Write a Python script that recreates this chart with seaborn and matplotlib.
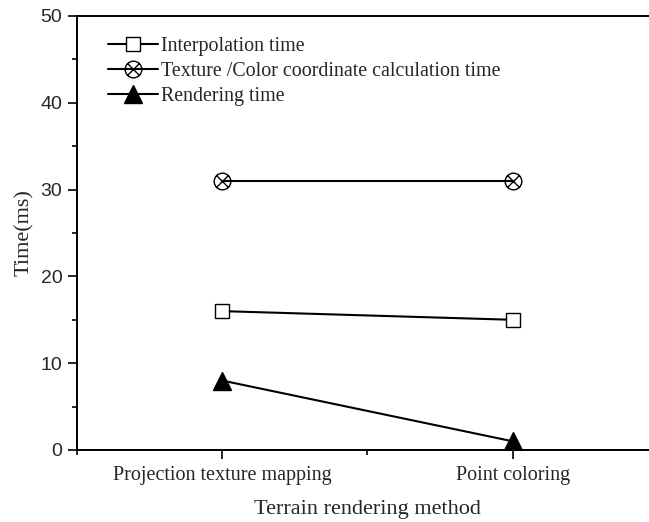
import matplotlib
matplotlib.use("Agg")
import matplotlib.pyplot as plt
import seaborn as sns
import pandas as pd
from matplotlib.path import Path
from matplotlib.ticker import MultipleLocator

methods = ["Projection texture mapping", "Point coloring"]
interpolation = [16, 15]
texture_color = [31, 31]
rendering = [8, 1]

sns.set_theme(style="ticks")
plt.rcParams["font.family"] = ["Liberation Serif", "DejaVu Serif"]

# circle with an x inside
circ = Path.unit_circle()
d = 0.7071
cross = Path([(-d, -d), (d, d), (-d, d), (d, -d)],
             [Path.MOVETO, Path.LINETO, Path.MOVETO, Path.LINETO])
circle_x = Path.make_compound_path(circ, cross)

fig = plt.figure(figsize=(6.49, 5.22), dpi=100)
ax = fig.add_axes([77 / 649, 1 - 450 / 522, 581 / 649, 434 / 522])

series = [
    ("Interpolation time", interpolation, "s", "white", 10.5),
    ("Texture /Color coordinate calculation time", texture_color, circle_x, "none", 12),
    ("Rendering time", rendering, "^", "black", 13.5),
]
for label, vals, mk, fc, ms in series:
    df = pd.DataFrame({"method": methods, "time": vals})
    sns.lineplot(data=df, x="method", y="time", ax=ax, color="black", lw=1.5,
                 marker=mk, mfc=fc, mec="black", mew=1.0, ms=ms, label=label)

ax.set_xlim(-0.5, 1.5)
ax.set_ylim(0, 50)
ax.yaxis.set_major_locator(MultipleLocator(10))
ax.yaxis.set_minor_locator(MultipleLocator(5))
ax.xaxis.set_minor_locator(MultipleLocator(0.5))
ax.tick_params(which="major", direction="out", length=6.5, width=1.2, color="black")
ax.tick_params(which="minor", direction="out", length=3.5, width=1.2, color="black")
ax.tick_params(axis="x", labelsize=14.5, pad=5)
ax.tick_params(axis="y", labelsize=14, pad=4)
for t in ax.get_yticklabels():
    t.set_family(["Liberation Sans", "DejaVu Sans"])

for s in ["left", "bottom", "top"]:
    ax.spines[s].set_linewidth(1.4)
    ax.spines[s].set_color("black")
ax.spines["right"].set_visible(False)

ax.set_xlabel("Terrain rendering method", fontsize=16, labelpad=11)
ax.set_ylabel("Time(ms)", fontsize=16, labelpad=5)

ax.legend(loc="upper left", frameon=False, fontsize=14.4, handlelength=2.5,
          handletextpad=0.15, labelspacing=0.3, borderaxespad=0.3,
          bbox_to_anchor=(0.03, 0.985))

fig.savefig("out.png", dpi=100)
